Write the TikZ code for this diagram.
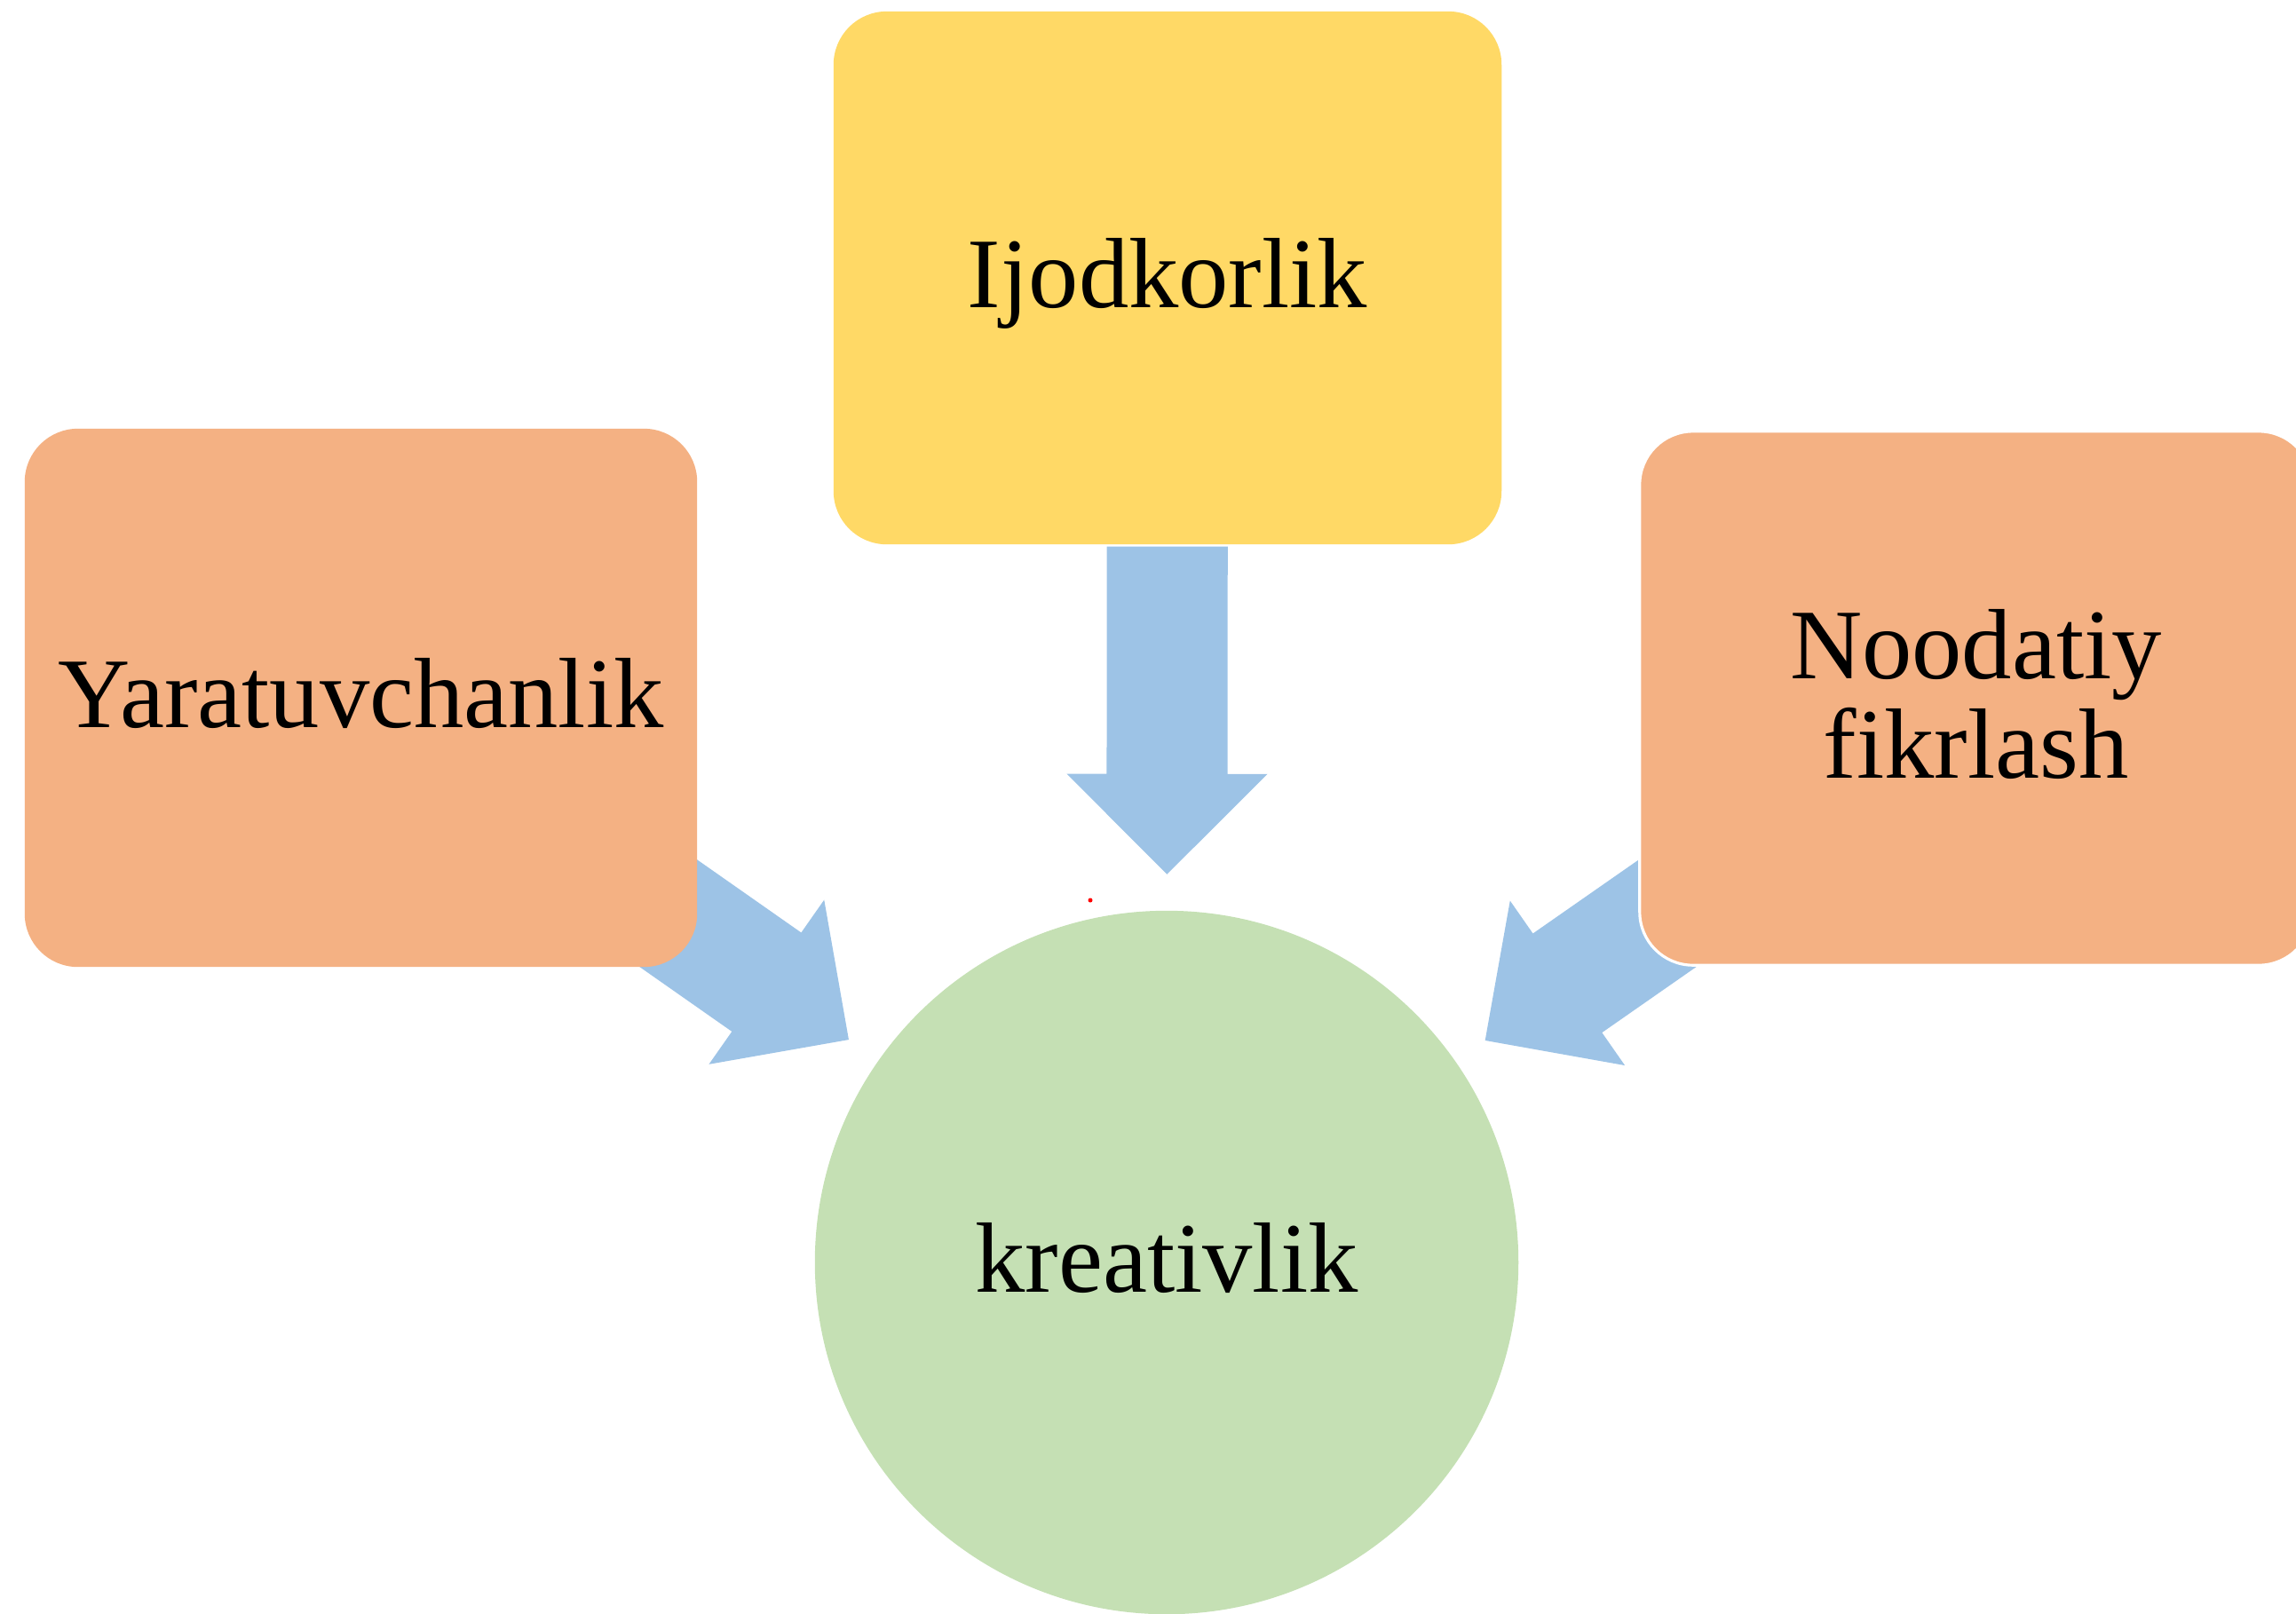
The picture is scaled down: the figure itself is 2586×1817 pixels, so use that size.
\documentclass[tikz,border=0pt]{standalone}
\usepackage{fontspec}
\setmainfont{Liberation Serif}
\usetikzlibrary{calc,backgrounds}
\definecolor{boxyellow}{RGB}{255,217,102}
\definecolor{boxorange}{RGB}{244,177,131}
\definecolor{arrowblue}{RGB}{157,195,230}
\definecolor{circgreen}{RGB}{197,224,180}
\newcommand\blkarrow[2]{%
  \coordinate (T) at ($(#2.center)!4.37cm!(#1.center)$);
  \coordinate (B) at ($(#2.center)!8.06cm!(#1.center)$);
  \coordinate (H) at ($(T)!1.13cm!(B)$);
  \fill[blockarrow] (T) -- ($(H)!1.13cm!90:(B)$) -- ($(H)!0.68cm!90:(B)$)
    -- ($(B)!0.68cm!-90:(H)$) -- ($(B)!0.68cm!90:(H)$)
    -- ($(H)!0.68cm!-90:(B)$) -- ($(H)!1.13cm!-90:(B)$) -- cycle;
}
\begin{document}
\begin{tikzpicture}[x=0.01cm,y=-0.01cm,
  box/.style={rectangle,rounded corners=0.6cm,inner sep=0pt,align=center,
    font=\fontsize{32}{31.8}\selectfont},
  oneline/.style={text height=0.66cm,text depth=0pt},
  blockarrow/.style={fill=arrowblue}]
\useasboundingbox (0,0) rectangle (2586,1817);
\node[box,oneline,fill=boxyellow,minimum width=7.52cm,minimum height=6.0cm] (top) at (1315,313) {Ijodkorlik};
\node[box,oneline,fill=boxorange,minimum width=7.57cm,minimum height=6.06cm] (left) at (406.5,786) {Yaratuvchanlik};
\node[box,fill=boxorange,draw=white,line width=0.9pt,text depth=0.1cm,minimum width=7.57cm,minimum height=6.01cm] (right) at (2225.5,786.5) {Noodatiy\\fikrlash};
\node[circle,oneline,fill=circgreen,minimum size=7.92cm,inner sep=0pt,
  font=\fontsize{32}{31.8}\selectfont] (c) at (1314,1422) {kreativlik};
\fill[red] (1228,1014) circle (0.025cm);
\begin{pgfonlayer}{background}
\blkarrow{top}{c}
\blkarrow{left}{c}
\blkarrow{right}{c}
\end{pgfonlayer}
\end{tikzpicture}
\end{document}
